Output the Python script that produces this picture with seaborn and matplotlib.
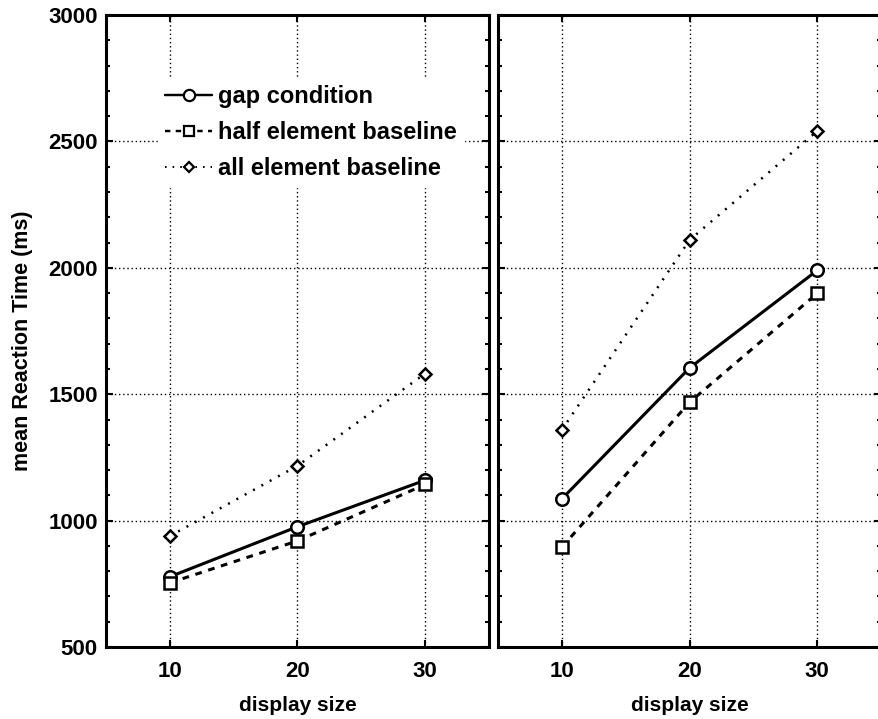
import matplotlib
matplotlib.use("Agg")
import matplotlib.pyplot as plt
import seaborn as sns
import pandas as pd

# values
display_size = [10, 20, 30]
conditions = ["gap condition", "half element baseline", "all element baseline"]

left_gap = [778, 976, 1160]
left_half = [754, 920, 1143]
left_all = [939, 1217, 1582]

right_gap = [1086, 1604, 1990]
right_half = [895, 1468, 1899]
right_all = [1359, 2110, 2541]

y_ticks = [500, 1000, 1500, 2000, 2500, 3000]


def make_df(gap, half, allel):
    rows = []
    for name, vals in zip(conditions, [gap, half, allel]):
        for x, v in zip(display_size, vals):
            rows.append({"display size": x, "RT": v, "condition": name})
    return pd.DataFrame(rows)


df_left = make_df(left_gap, left_half, left_all)
df_right = make_df(right_gap, right_half, right_all)

sns.set_style("ticks")
plt.rcParams["font.family"] = ["Liberation Sans", "DejaVu Sans"]
plt.rcParams["font.weight"] = "bold"
for key in ["text.color", "axes.labelcolor", "xtick.color", "ytick.color", "axes.edgecolor"]:
    plt.rcParams[key] = "black"

styles = {
    "gap condition": dict(marker="o", ls="-", lw=2.2, ms=9),
    "half element baseline": dict(marker="s", ls=(0, (2.2, 2.2)), lw=2.2, ms=8.5),
    "all element baseline": dict(marker="D", ls=(0, (0.8, 3.0)), lw=1.8, ms=6),
}

fig = plt.figure(figsize=(8.79, 7.19), dpi=100)
ax1 = fig.add_axes([0.1206, 0.1001, 0.4357, 0.8789])
ax2 = fig.add_axes([0.5666, 0.1001, 0.4357, 0.8789])

for ax, df in [(ax1, df_left), (ax2, df_right)]:
    for name in conditions:
        st = styles[name]
        sns.lineplot(
            data=df[df["condition"] == name], x="display size", y="RT",
            ax=ax, color="black", marker=st["marker"], linestyle=st["ls"],
            linewidth=st["lw"], markersize=st["ms"], markerfacecolor="white",
            markeredgecolor="black", markeredgewidth=1.8, label=name,
            legend=False, zorder=3,
        )
    ax.set_xlim(5, 35)
    ax.set_ylim(500, 3000)
    ax.set_xticks(display_size)
    ax.set_yticks(y_ticks)
    ax.set_yticks(range(500, 3001, 100), minor=True)
    ax.grid(True, which="major", color="black", linestyle=(0, (1, 2)), linewidth=1.0)
    ax.tick_params(axis="both", which="both", direction="in", top=True, right=True,
                   labelsize=16, width=1.5)
    ax.tick_params(axis="x", which="major", pad=10)
    ax.tick_params(axis="y", which="major", pad=6)
    ax.tick_params(which="major", length=5)
    ax.tick_params(which="minor", length=3)
    for sp in ax.spines.values():
        sp.set_linewidth(2.2)
        sp.set_visible(True)
    ax.set_xlabel("display size", fontsize=15, fontweight="bold", labelpad=10)

ax1.set_ylabel("mean Reaction Time (ms)", fontsize=15.5, fontweight="bold")
ax1.yaxis.set_label_coords(-0.19, 0.484)
ax2.set_ylabel("")
ax2.tick_params(axis="y", labelleft=False)

handles = [
    plt.Line2D([], [], color="black", marker=styles[n]["marker"], linestyle=styles[n]["ls"],
               linewidth=styles[n]["lw"] * 0.8, markersize=styles[n]["ms"] * 0.9,
               markerfacecolor="white", markeredgecolor="black", markeredgewidth=1.6)
    for n in conditions
]
leg = ax1.legend(handles, conditions, loc="upper left", bbox_to_anchor=(0.136, 0.9),
                 frameon=True, fancybox=False, edgecolor="white", framealpha=1,
                 fontsize=17, handlelength=2.0, handletextpad=0.25, labelspacing=0.55,
                 borderpad=0.3, borderaxespad=0)
leg.set_zorder(5)

fig.savefig("out.png", dpi=100)
